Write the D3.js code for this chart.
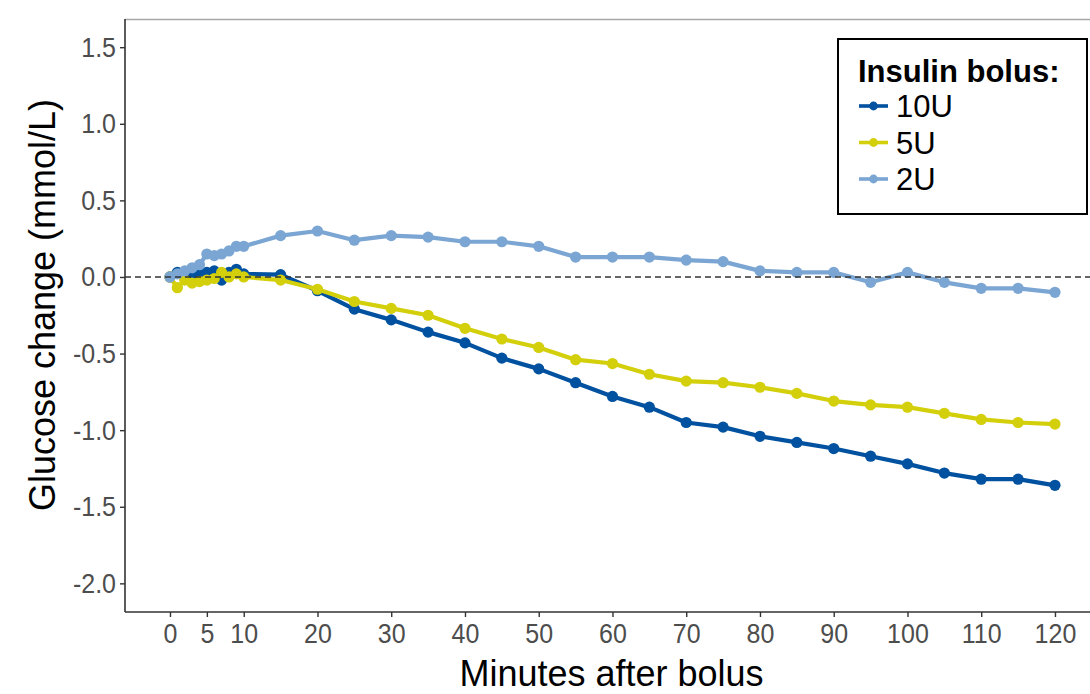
<!DOCTYPE html>
<html>
<head>
<meta charset="utf-8">
<script src="https://cdn.jsdelivr.net/npm/d3@7"></script>
<style>
    body { margin: 0; background: #fff; }
    text { font-family: "Liberation Sans", Arial, sans-serif; }
</style>
</head>
<body>
<script>
//minutes after bolus
var minutes = [0, 1, 2, 3, 4, 5, 6, 7, 8, 9, 10,
               15, 20, 25, 30, 35, 40, 45, 50, 55, 60, 65, 70,
               75, 80, 85, 90, 95, 100, 105, 110, 115, 120];

//glucose change (mmol/L) per bolus
var u10 = [0.00, 0.03, 0.03, 0.01, 0.02, 0.03, 0.04, -0.02, 0.03, 0.05, 0.02,
           0.015, -0.09, -0.21, -0.28, -0.36, -0.43, -0.53, -0.60, -0.69, -0.78, -0.85, -0.95,
           -0.98, -1.04, -1.08, -1.12, -1.17, -1.22, -1.28, -1.32, -1.32, -1.36];
var u5 = [0.00, -0.07, -0.02, -0.04, -0.03, -0.02, -0.01, 0.03, 0.00, 0.02, 0.00,
          -0.02, -0.08, -0.16, -0.205, -0.25, -0.335, -0.405, -0.46, -0.54, -0.565, -0.635, -0.68,
          -0.69, -0.72, -0.76, -0.81, -0.835, -0.85, -0.89, -0.93, -0.95, -0.96];
var u2 = [0.00, 0.02, 0.04, 0.06, 0.08, 0.15, 0.14, 0.15, 0.17, 0.20, 0.20,
          0.27, 0.30, 0.24, 0.27, 0.26, 0.23, 0.23, 0.20, 0.13, 0.13, 0.13, 0.11,
          0.10, 0.04, 0.03, 0.03, -0.035, 0.03, -0.035, -0.074, -0.074, -0.10];

var seriesNames = ["10U", "5U", "2U"];
var seriesColors = ["#00519f", "#d3cf0b", "#7ba6d3"];

var xTicks = [0, 5, 10, 20, 30, 40, 50, 60, 70, 80, 90, 100, 110, 120];
var yTicks = [1.5, 1.0, 0.5, 0.0, -0.5, -1.0, -1.5, -2.0];

window.onload = setChart();

function setChart(){

    var width = 1090,
        height = 694;

    //panel edges
    var left = 125,
        right = 1090,
        top = 19,
        bottom = 612;

    var svg = d3.select("body")
        .append("svg")
        .attr("width", width)
        .attr("height", height);

    var x = d3.scaleLinear()
        .domain([-6.1, 124.75])
        .range([left, right]);

    var y = d3.scaleLinear()
        .domain([-2.187, 1.684])
        .range([bottom, top]);

    //plain hyphen for negatives, like the original
    var fmtY = function(d){ return d3.format(".1f")(d).replace("\u2212", "-"); };

    //top border of the panel
    svg.append("line")
        .attr("x1", left).attr("x2", right)
        .attr("y1", top + 0.5).attr("y2", top + 0.5)
        .attr("stroke", "#a6a6a6")
        .attr("stroke-width", 1.5);

    //axes
    var xAxis = svg.append("g")
        .attr("transform", "translate(0," + bottom + ")")
        .call(d3.axisBottom(x).tickValues(xTicks).tickSize(5).tickPadding(5)
            .tickFormat(d3.format("d")));

    var yAxis = svg.append("g")
        .attr("transform", "translate(" + left + ",0)")
        .call(d3.axisLeft(y).tickValues(yTicks).tickSize(5).tickPadding(4)
            .tickFormat(fmtY));

    [xAxis, yAxis].forEach(function(ax){
        ax.select(".domain").attr("stroke", "#333").attr("stroke-width", 1.6);
        ax.selectAll(".tick line").attr("stroke", "#333").attr("stroke-width", 1.4);
        ax.selectAll(".tick text")
            .attr("fill", "#4d4d4d")
            .attr("transform", "scale(1,1.12)")
            .style("font-size", "25px")
            .style("font-family", "'Liberation Sans', Arial, sans-serif");
    });

    //extend the axis lines over the whole panel
    xAxis.select(".domain").attr("d", "M" + left + ",0H" + right);
    yAxis.select(".domain").attr("d", "M0," + top + "V" + bottom);

    //build rows from the arrays
    var series = [u10, u5, u2].map(function(vals, i){
        return {
            name: seriesNames[i],
            color: seriesColors[i],
            values: vals.map(function(v, j){ return {t: minutes[j], v: v}; })
        };
    });

    var line = d3.line()
        .x(function(d){ return x(d.t); })
        .y(function(d){ return y(d.v); });

    var groups = svg.selectAll(".series")
        .data(series)
        .enter()
        .append("g")
        .attr("class", "series");

    groups.append("path")
        .attr("d", function(d){ return line(d.values); })
        .attr("fill", "none")
        .attr("stroke", function(d){ return d.color; })
        .attr("stroke-width", 4.2)
        .attr("stroke-linejoin", "round");

    groups.selectAll("circle")
        .data(function(d){ return d.values.map(function(p){ return {t: p.t, v: p.v, color: d.color}; }); })
        .enter()
        .append("circle")
        .attr("cx", function(d){ return x(d.t); })
        .attr("cy", function(d){ return y(d.v); })
        .attr("r", 5.6)
        .attr("fill", function(d){ return d.color; });

    //reference line at zero
    svg.append("line")
        .attr("x1", left).attr("x2", right)
        .attr("y1", y(0)).attr("y2", y(0))
        .attr("stroke", "#333")
        .attr("stroke-width", 1.5)
        .attr("stroke-dasharray", "6,4");

    //axis titles
    svg.append("text")
        .attr("x", (left + right) / 2 + 4)
        .attr("y", 686)
        .attr("text-anchor", "middle")
        .style("font-size", "36px")
        .text("Minutes after bolus");

    svg.append("text")
        .attr("transform", "translate(55," + 305 + ") rotate(-90)")
        .attr("text-anchor", "middle")
        .style("font-size", "36px")
        .text("Glucose change (mmol/L)");

    //legend
    var legend = svg.append("g")
        .attr("transform", "translate(838,39)");

    legend.append("rect")
        .attr("width", 249)
        .attr("height", 175)
        .attr("fill", "#fff")
        .attr("stroke", "#000")
        .attr("stroke-width", 2);

    legend.append("text")
        .attr("x", 20)
        .attr("y", 43)
        .style("font-size", "31px")
        .style("font-weight", "bold")
        .text("Insulin bolus:");

    var items = legend.selectAll(".item")
        .data(series)
        .enter()
        .append("g")
        .attr("class", "item")
        .attr("transform", function(d, i){ return "translate(0," + (67 + i * 36.5) + ")"; });

    items.append("line")
        .attr("x1", 21).attr("x2", 50)
        .attr("stroke", function(d){ return d.color; })
        .attr("stroke-width", 3.6);

    items.append("circle")
        .attr("cx", 35.5)
        .attr("r", 4.4)
        .attr("fill", function(d){ return d.color; });

    items.append("text")
        .attr("x", 58)
        .attr("y", 11)
        .style("font-size", "31px")
        .text(function(d){ return d.name; });
};
</script>
</body>
</html>
